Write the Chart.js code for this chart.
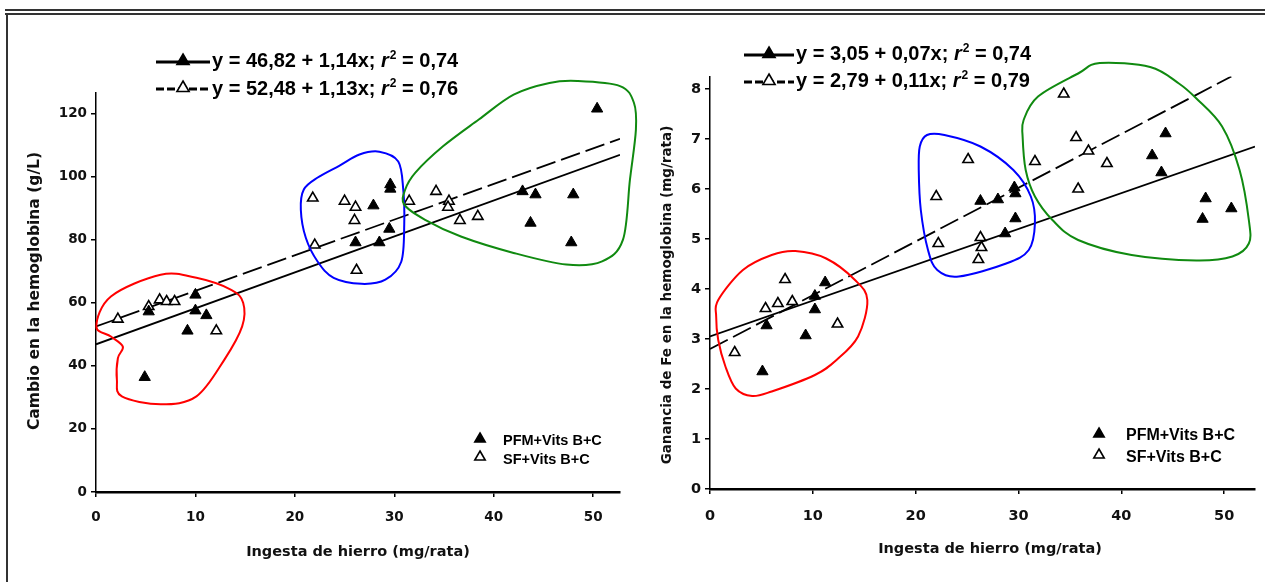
<!DOCTYPE html>
<html>
<head>
<meta charset="utf-8">
<script src="https://cdn.jsdelivr.net/npm/chart.js@4.4.1/dist/chart.umd.min.js"></script>
<style>
  body { margin: 0; background: #fff; width: 1265px; height: 582px; overflow: hidden; position: relative; }
  .rule { position: absolute; background: #333; }
  canvas { position: absolute; top: 0; }
</style>
</head>
<body>
<div class="rule" style="left:5px;top:9px;width:1260px;height:2px"></div>
<div class="rule" style="left:5px;top:13px;width:1260px;height:2px"></div>
<div class="rule" style="left:6px;top:13px;width:1.5px;height:569px"></div>
<canvas id="hb" width="640" height="582" style="left:0"></canvas>
<canvas id="fe" width="625" height="582" style="left:640px"></canvas>
<script>
// ---- left panel: cambio en la hemoglobina (g/L)
const hbPfmX = [4.9, 5.3, 9.2, 10.0, 10.0, 11.1, 26.1, 28.5, 29.5, 27.9, 29.6, 29.6, 42.9, 44.2, 43.7, 48.0, 47.8, 50.4];
const hbPfmY = [36.4, 57.2, 51.1, 62.5, 57.5, 56.0, 79.1, 79.1, 83.4, 90.8, 97.5, 96.1, 95.3, 94.3, 85.3, 94.3, 79.1, 121.5];
const hbSfX = [2.2, 5.3, 6.4, 7.1, 7.9, 12.1, 21.8, 22.0, 25.0, 26.1, 26.0, 26.2, 31.5, 34.2, 35.5, 35.4, 36.6, 38.4];
const hbSfY = [54.8, 58.8, 60.9, 60.4, 60.4, 51.1, 93.2, 78.3, 92.2, 90.3, 86.1, 70.3, 92.2, 95.3, 92.2, 90.3, 86.1, 87.4];
const hbFitPfm = [[0, 46.82], [52.7, 106.9]];
const hbFitSf = [[0, 52.48], [52.7, 112.0]];
const hbEqPfm = ['y = 46,82 + 1,14x; ', ' = 0,74'];
const hbEqSf = ['y = 52,48 + 1,13x; ', ' = 0,76'];

// ---- right panel: ganancia de Fe en la hemoglobina (mg/rata)
const fePfmX = [5.1, 5.5, 9.3, 10.2, 10.2, 11.2, 26.3, 28.0, 28.7, 29.6, 29.7, 29.7, 43.0, 43.9, 44.3, 47.9, 48.2, 50.7];
const fePfmY = [2.35, 3.27, 3.07, 3.59, 3.86, 4.13, 5.76, 5.79, 5.11, 6.03, 5.91, 5.41, 6.67, 6.33, 7.11, 5.40, 5.81, 5.61];
const feSfX = [2.4, 5.4, 6.6, 7.3, 8.0, 12.4, 22.0, 22.2, 25.1, 26.1, 26.3, 26.4, 31.6, 34.4, 35.6, 35.8, 36.8, 38.6];
const feSfY = [2.73, 3.61, 3.71, 4.19, 3.75, 3.30, 5.85, 4.91, 6.59, 4.59, 5.03, 4.83, 6.55, 7.90, 7.03, 6.00, 6.76, 6.51];
const feFitPfm = [[0, 3.05], [53, 6.85]];
const feFitSf = [[0, 2.8], [50.7, 8.25]];
const feEqPfm = ['y = 3,05 + 0,07x; ', ' = 0,74'];
const feEqSf = ['y = 2,79 + 0,11x; ', ' = 0,79'];

const seriesNames = ['PFM+Vits B+C', 'SF+Vits B+C'];
const xTitle = 'Ingesta de hierro (mg/rata)';

// hand drawn group outlines (data units)
const hbRedLoop = [[0.04,52.5],[1.5,62],[6.5,68.9],[10.1,67.9],[13.6,64.1],[14.8,60],[14.7,52.5],[12.9,41.9],[10.1,30.3],[6.5,27.8],[2.6,30.3],[2.1,35.6],[2.2,42.4],[2.7,46.1],[1.5,49.3]];
const hbBlueLoop = [[28.5,107.9],[30.4,104.8],[30.9,95.9],[31.0,84.8],[30.7,73.0],[29.1,67.3],[26.7,66.0],[23.9,67.9],[22.3,73.0],[21.1,80.6],[20.6,89.5],[20.9,95.9],[22.3,99.7],[24.5,103.5],[26.5,107.0]];
const hbGreenLoop = [[48.4,130.3],[52.7,128.7],[54.1,123.4],[54.3,114.9],[53.7,99.0],[53.0,80.0],[50.9,73.1],[47.3,72.1],[42.0,75.8],[36.7,81.0],[33.1,86.3],[31.0,91.1],[31.1,95.9],[32.1,101.2],[34.9,109.6],[38.5,118.1],[42.0,126.0],[45.6,129.7]];
const feRedLoop = [[0.6,3.45],[0.8,3.78],[3.2,4.38],[6.0,4.68],[8.3,4.76],[11.3,4.61],[14.1,4.18],[15.3,3.78],[14.4,3.05],[12.3,2.58],[10.2,2.28],[6.0,1.95],[4.1,1.86],[2.5,2.01],[1.5,2.45],[0.8,2.98]];
const feBlueLoop = [[21.1,7.08],[22.8,7.08],[26.3,6.85],[29.5,6.38],[31.2,5.85],[31.6,5.31],[31.0,4.78],[28.8,4.51],[24.2,4.25],[22.1,4.38],[21.2,4.78],[20.5,5.58],[20.3,6.38],[20.4,6.85]];
const feGreenLoop = [[30.5,7.38],[31.9,7.85],[35.8,8.31],[37.9,8.52],[42.8,8.44],[45.6,8.11],[47.3,7.81],[49.8,7.25],[51.5,6.38],[52.4,5.38],[52.4,4.91],[50.8,4.65],[47.3,4.57],[41.0,4.68],[35.8,4.98],[33.3,5.38],[31.6,5.85],[30.7,6.38],[30.4,7.05]];

function pts(xs, ys) { return xs.map((x, i) => ({x: x, y: ys[i]})); }
function pairs(a) { return a.map(p => ({x: p[0], y: p[1]})); }

function closedCurve(ctx, p) {
  const n = p.length;
  ctx.beginPath();
  ctx.moveTo(p[0].x, p[0].y);
  for (let i = 0; i < n; i++) {
    const p0 = p[(i - 1 + n) % n], p1 = p[i], p2 = p[(i + 1) % n], p3 = p[(i + 2) % n];
    ctx.bezierCurveTo(p1.x + (p2.x - p0.x) / 6, p1.y + (p2.y - p0.y) / 6,
                      p2.x - (p3.x - p1.x) / 6, p2.y - (p3.y - p1.y) / 6, p2.x, p2.y);
  }
  ctx.closePath();
  ctx.stroke();
}

function tri(ctx, x, y, r, filled) {
  ctx.fillStyle = filled ? '#000' : '#fff';
  ctx.strokeStyle = '#000';
  ctx.lineWidth = 1.6;
  Chart.helpers.drawPoint(ctx, {pointStyle: 'triangle', radius: r, borderWidth: 1.6}, x, y);
}

function eqText(ctx, x, y, size, parts) {
  ctx.fillStyle = '#000';
  ctx.textBaseline = 'alphabetic';
  ctx.textAlign = 'left';
  ctx.font = 'bold ' + size + 'px "Liberation Sans"';
  ctx.fillText(parts[0], x, y);
  x += ctx.measureText(parts[0]).width;
  ctx.font = 'italic bold ' + size + 'px "Liberation Sans"';
  ctx.fillText('r', x, y);
  x += ctx.measureText('r').width + 1;
  ctx.font = 'bold ' + Math.round(size * 0.58) + 'px "Liberation Sans"';
  ctx.fillText('2', x, y - size * 0.4);
  x += ctx.measureText('2').width;
  ctx.font = 'bold ' + size + 'px "Liberation Sans"';
  ctx.fillText(parts[1], x, y);
}

const overlay = {
  id: 'overlay',
  afterDatasetsDraw(chart, args, o) {
    const ctx = chart.ctx, sx = chart.scales.x, sy = chart.scales.y;
    ctx.save();
    ctx.lineWidth = 2;
    o.loops.forEach(l => {
      ctx.strokeStyle = l.color;
      closedCurve(ctx, l.pts.map(p => ({x: sx.getPixelForValue(p[0]), y: sy.getPixelForValue(p[1])})));
    });
    ctx.restore();
  },
  afterDraw(chart, args, o) {
    const ctx = chart.ctx;
    ctx.save();
    // equation key
    o.eqs.forEach((e, i) => {
      ctx.strokeStyle = '#000';
      ctx.lineWidth = 3;
      ctx.setLineDash(i ? [8, 3] : []);
      ctx.beginPath();
      ctx.moveTo(o.eqX0, e.ly);
      ctx.lineTo(o.eqX1, e.ly);
      ctx.stroke();
      ctx.setLineDash([]);
      tri(ctx, (o.eqX0 + o.eqX1) / 2, e.ly - 1, 7, i === 0);
      eqText(ctx, o.eqX1 + 2, e.base, o.eqSize, e.parts);
    });
    // series key
    ctx.font = 'bold ' + o.keySize + 'px "Liberation Sans"';
    seriesNames.forEach((name, i) => {
      const k = o.key[i];
      tri(ctx, k[0], k[1], 6, i === 0);
      ctx.fillStyle = '#000';
      ctx.textAlign = 'left';
      ctx.textBaseline = 'alphabetic';
      ctx.fillText(name, k[2], k[3]);
    });
    // axis titles
    ctx.fillStyle = '#111';
    ctx.textAlign = 'center';
    ctx.textBaseline = 'middle';
    ctx.font = 'bold ' + o.xTitleSize + 'px "DejaVu Sans"';
    ctx.fillText(xTitle, o.xTitle[0], o.xTitle[1]);
    ctx.font = 'bold ' + o.yTitleSize + 'px "DejaVu Sans"';
    ctx.translate(o.yTitle[0], o.yTitle[1]);
    ctx.rotate(-Math.PI / 2);
    ctx.fillText(o.yTitleText, 0, 0);
    ctx.restore();
  }
};

function makePanel(id, cfg) {
  const tickFont = {family: 'DejaVu Sans', size: cfg.tickSize, weight: 'bold'};
  const axisGrid = {drawOnChartArea: false, drawTicks: true, tickLength: 5, color: '#000', lineWidth: 1.5};
  return new Chart(document.getElementById(id), {
    type: 'scatter',
    data: {
      datasets: [
        {label: seriesNames[0], data: pts(cfg.pfmX, cfg.pfmY), pointStyle: 'triangle', pointRadius: 6.5,
         backgroundColor: '#000', borderColor: '#000', borderWidth: 1},
        {label: seriesNames[1], data: pts(cfg.sfX, cfg.sfY), pointStyle: 'triangle', pointRadius: 6,
         backgroundColor: '#fff', borderColor: '#000', borderWidth: 1.6},
        {data: pairs(cfg.fitPfm), showLine: true, pointRadius: 0, borderColor: '#000', borderWidth: 1.8},
        {data: pairs(cfg.fitSf), showLine: true, pointRadius: 0, borderColor: '#000', borderWidth: 1.8, borderDash: [20, 6]}
      ]
    },
    options: {
      responsive: false,
      animation: false,
      events: [],
      layout: {padding: {left: 0, right: cfg.padRight, top: cfg.padTop, bottom: 0}},
      plugins: {
        legend: {display: false},
        tooltip: {enabled: false},
        overlay: cfg.overlay
      },
      scales: {
        x: {
          type: 'linear', min: 0, max: cfg.xMax,
          afterFit: s => { s.height = cfg.xHeight; },
          grid: axisGrid,
          border: {color: '#000', width: 2.5},
          ticks: {stepSize: 10, includeBounds: false, padding: cfg.xPad, color: '#111', font: tickFont}
        },
        y: {
          type: 'linear', min: 0, max: cfg.yMax,
          afterFit: s => { s.width = cfg.yWidth; },
          grid: axisGrid,
          border: {color: '#000', width: 1.5},
          ticks: {stepSize: cfg.yStep, includeBounds: false, padding: 4, color: '#111', font: tickFont}
        }
      }
    },
    plugins: [overlay]
  });
}

makePanel('hb', {
  pfmX: hbPfmX, pfmY: hbPfmY, sfX: hbSfX, sfY: hbSfY, fitPfm: hbFitPfm, fitSf: hbFitSf,
  xMax: 52.7, yMax: 126.5, yStep: 20, padRight: 20, padTop: 93, xHeight: 90, yWidth: 96,
  tickSize: 13.5, xPad: 12,
  overlay: {
    loops: [{color: '#ff0000', pts: hbRedLoop}, {color: '#0000ff', pts: hbBlueLoop}, {color: '#108a10', pts: hbGreenLoop}],
    eqX0: 156, eqX1: 210, eqSize: 20,
    eqs: [{ly: 62, base: 67, parts: hbEqPfm}, {ly: 89, base: 95, parts: hbEqSf}],
    keySize: 14.5, key: [[480, 439, 503, 445], [480, 457, 503, 464]],
    xTitleSize: 14.5, yTitleSize: 15.5, xTitle: [358, 552], yTitle: [35, 291], yTitleText: 'Cambio en la hemoglobina (g/L)'
  }
});

makePanel('fe', {
  pfmX: fePfmX, pfmY: fePfmY, sfX: feSfX, sfY: feSfY, fitPfm: feFitPfm, fitSf: feFitSf,
  xMax: 53, yMax: 8.25, yStep: 1, padRight: 10, padTop: 76.5, xHeight: 93, yWidth: 70,
  tickSize: 14.5, xPad: 14,
  overlay: {
    loops: [{color: '#ff0000', pts: feRedLoop}, {color: '#0000ff', pts: feBlueLoop}, {color: '#108a10', pts: feGreenLoop}],
    eqX0: 104, eqX1: 154, eqSize: 20,
    eqs: [{ly: 55, base: 60, parts: feEqPfm}, {ly: 82, base: 87, parts: feEqSf}],
    keySize: 16, key: [[459, 434, 486, 440], [459, 455, 486, 462]],
    xTitleSize: 14.5, yTitleSize: 13.5, xTitle: [350, 549], yTitle: [27, 295], yTitleText: 'Ganancia de Fe en la hemoglobina (mg/rata)'
  }
});
</script>
</body>
</html>
